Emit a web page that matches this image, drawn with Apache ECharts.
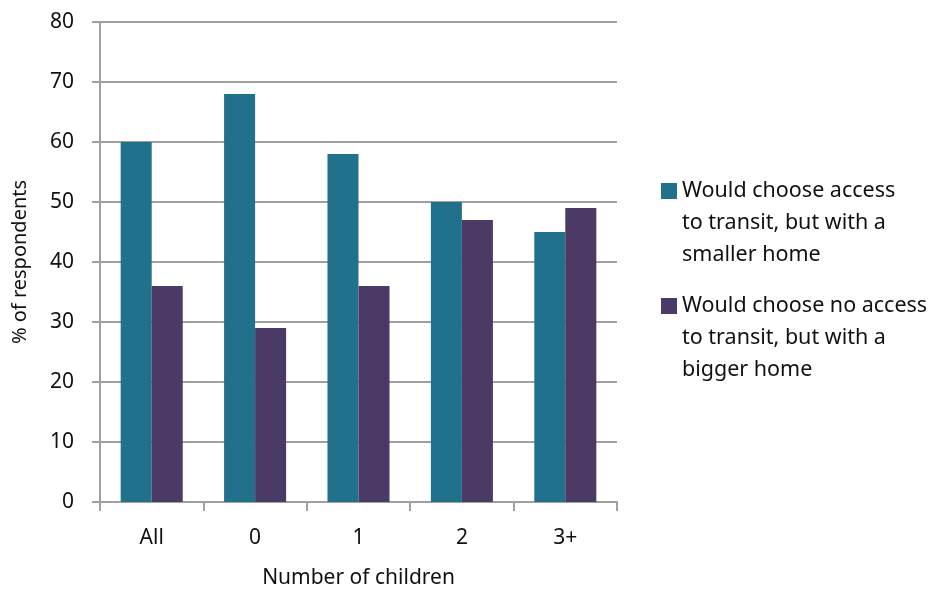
<!DOCTYPE html>
<html>
<head>
<meta charset="utf-8">
<script src="https://cdn.jsdelivr.net/npm/echarts@6/dist/echarts.min.js"></script>
<style>
html,body{margin:0;padding:0;background:#fff;}
#chart{width:932px;height:589px;}
</style>
</head>
<body>
<div id="chart"></div>
<script>
const categories = ['All', '0', '1', '2', '3+'];
const seriesNames = [
  'Would choose access\nto transit, but with a\nsmaller home',
  'Would choose no access\nto transit, but with a\nbigger home'
];
const transitSmaller = [60, 68, 58, 50, 45];
const noTransitBigger = [36, 29, 36, 47, 49];
const yTicks = [0, 80, 10];

const FONT = '"Noto Sans", sans-serif';
const GREY = '#A0A0A0';
const TXT = '#111';
const FS = 21;

const chart = echarts.init(document.getElementById('chart'));
const legendText = { fontFamily: FONT, fontSize: 21.5, color: TXT, lineHeight: 32 };
const legendFormatter = name => '\n\n' + name;
chart.setOption({
  animation: false,
  grid: { left: 100, right: 315, top: 22, bottom: 87, containLabel: false, outerBoundsMode: 'none' },
  legend: [
    { data: [seriesNames[0]], orient: 'vertical', left: 661, top: 111, padding: 0, icon: 'rect',
      itemWidth: 16, itemHeight: 16, formatter: legendFormatter, textStyle: legendText },
    { data: [seriesNames[1]], orient: 'vertical', left: 661, top: 226, padding: 0, icon: 'rect',
      itemWidth: 16, itemHeight: 16, formatter: legendFormatter, textStyle: legendText }
  ],
  xAxis: {
    type: 'category',
    data: categories,
    name: 'Number of children',
    nameLocation: 'middle',
    nameGap: 66,
    nameTextStyle: { fontFamily: FONT, fontSize: FS, color: TXT },
    axisLine: { lineStyle: { color: GREY, width: 2 } },
    axisTick: { show: true, length: 9, lineStyle: { color: GREY, width: 2 } },
    axisLabel: { fontFamily: FONT, fontSize: FS, color: TXT, margin: 26 },
    splitLine: { show: false }
  },
  yAxis: {
    type: 'value',
    min: yTicks[0], max: yTicks[1], interval: yTicks[2],
    name: '% of respondents',
    nameLocation: 'middle',
    nameGap: 70,
    nameRotate: 90,
    nameTextStyle: { fontFamily: FONT, fontSize: 20, color: TXT },
    axisLine: { show: true, lineStyle: { color: GREY, width: 2 } },
    axisTick: { show: true, length: 8, lineStyle: { color: GREY, width: 2 } },
    axisLabel: { fontFamily: FONT, fontSize: FS, color: TXT, margin: 26 },
    splitLine: { show: true, lineStyle: { color: GREY, width: 2 } }
  },
  series: [
    { name: seriesNames[0], type: 'bar', data: transitSmaller, barWidth: '30%', barGap: '0%',
      itemStyle: { color: '#21718C' } },
    { name: seriesNames[1], type: 'bar', data: noTransitBigger, barWidth: '30%', barGap: '0%',
      itemStyle: { color: '#4B3A66' } }
  ]
});
</script>
</body>
</html>
